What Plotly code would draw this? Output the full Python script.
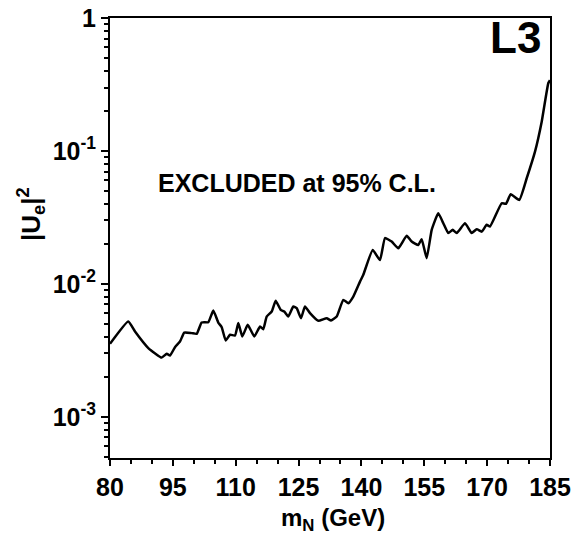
import plotly.graph_objects as go

mass = [80.0, 84.37, 85.97, 89.14, 92.34, 93.53, 94.32, 95.51, 96.70, 97.73, 99.50, 100.69,
        101.88, 103.46, 104.65, 105.84, 106.66, 107.61, 108.64, 109.83, 110.62, 111.57, 112.86,
        114.43, 115.80, 116.58, 117.39, 118.59, 119.54, 120.73, 121.59, 122.55, 123.74, 124.55,
        125.58, 126.53, 127.73, 129.71, 131.71, 132.74, 134.10, 135.67, 136.87, 138.06, 139.66,
        140.45, 142.69, 144.43, 145.62, 147.22, 148.80, 150.80, 151.99, 153.57, 154.38, 155.57,
        156.77, 158.34, 159.54, 160.73, 161.78, 162.74, 164.72, 166.31, 167.51, 168.70, 169.89,
        170.68, 173.47, 174.50, 175.62, 177.67, 179.44, 181.42, 183.02, 184.59, 185.0]
ue2 = [3.54e-3, 5.21e-3, 4.38e-3, 3.29e-3, 2.79e-3, 2.98e-3, 2.89e-3, 3.34e-3, 3.68e-3, 4.30e-3,
       4.26e-3, 4.21e-3, 5.12e-3, 5.15e-3, 6.30e-3, 5.12e-3, 4.72e-3, 3.75e-3, 4.14e-3, 4.09e-3,
       5.07e-3, 4.02e-3, 4.92e-3, 4.02e-3, 4.77e-3, 4.56e-3, 5.68e-3, 6.19e-3, 7.45e-3, 6.38e-3,
       6.19e-3, 5.68e-3, 6.75e-3, 6.56e-3, 5.52e-3, 6.75e-3, 6.02e-3, 5.27e-3, 5.52e-3, 5.30e-3,
       5.68e-3, 7.58e-3, 7.16e-3, 8.03e-3, 1.04e-2, 1.17e-2, 1.80e-2, 1.51e-2, 2.21e-2, 2.08e-2,
       1.85e-2, 2.30e-2, 2.08e-2, 1.96e-2, 2.17e-2, 1.56e-2, 2.55e-2, 3.40e-2, 2.86e-2, 2.41e-2,
       2.55e-2, 2.41e-2, 2.86e-2, 2.41e-2, 2.58e-2, 2.47e-2, 2.78e-2, 2.70e-2, 4.04e-2, 4.00e-2,
       4.72e-2, 4.28e-2, 6.23e-2, 9.88e-2, 0.166, 0.323, 0.34]

x_ticks = [80, 95, 110, 125, 140, 155, 170, 185]
x_minor = [85, 90, 100, 105, 115, 120, 130, 135, 145, 150, 160, 165, 175, 180]
y_ticks = [1e-3, 1e-2, 1e-1, 1]
y_ticktext = ["10<sup>-3</sup>", "10<sup>-2</sup>", "10<sup>-1</sup>", "1"]
y_minor = [m * 10.0 ** e for e in (-4, -3, -2, -1) for m in range(2, 10)]

FONT = "Liberation Sans, Arial, Helvetica, sans-serif"

# plot area in pixels: x 110..550, y 18..458
def px(xp):
    return (xp - 110) / 440

def py(yp):
    return 1 - (yp - 18) / 440

fig = go.Figure()
fig.add_trace(go.Scatter(x=mass, y=ue2, mode="lines",
                         line=dict(color="black", width=2.5, shape="spline", smoothing=0.4),
                         showlegend=False, hoverinfo="skip"))

fig.update_layout(
    width=585, height=538,
    margin=dict(l=110, r=35, t=18, b=80, autoexpand=False),
    paper_bgcolor="white", plot_bgcolor="white",
    font=dict(family=FONT, color="black", size=25, weight="bold"),
    xaxis=dict(
        range=[80, 185], tickmode="array", tickvals=x_ticks, automargin=False,
        ticks="outside", ticklen=6, tickwidth=2, tickcolor="black",
        showline=True, linecolor="black", linewidth=2, mirror=True,
        showgrid=False, zeroline=False,
        tickfont=dict(family=FONT, size=25, weight="bold"),
        minor=dict(tickmode="array", tickvals=x_minor, ticks="outside", ticklen=4,
                   tickwidth=1.5, tickcolor="black", showgrid=False),
    ),
    yaxis=dict(
        type="log", range=[-3.31, 0], tickmode="array", tickvals=y_ticks, ticktext=y_ticktext,
        automargin=False,
        ticks="outside", ticklen=7, tickwidth=2, tickcolor="black",
        showline=True, linecolor="black", linewidth=2, mirror=True,
        showgrid=False, zeroline=False,
        tickfont=dict(family=FONT, size=25, weight="bold"),
        minor=dict(tickmode="array", tickvals=y_minor, ticks="outside", ticklen=4,
                   tickwidth=1.5, tickcolor="black", showgrid=False),
    ),
    annotations=[
        dict(text="EXCLUDED at 95% C.L.", x=px(297), y=py(183), xref="paper", yref="paper",
             xanchor="center", yanchor="middle",
             showarrow=False, font=dict(family=FONT, size=25, weight="bold")),
        dict(text="L3", x=px(543), y=py(37), xref="paper", yref="paper", xanchor="right",
             yanchor="middle", showarrow=False, font=dict(family=FONT, size=44, weight="bold")),
        dict(text="|U<sub>e</sub>|<sup>2</sup>", x=px(31), y=py(214), xref="paper", yref="paper",
             xanchor="center", yanchor="middle",
             textangle=-90, showarrow=False, font=dict(family=FONT, size=26, weight="bold")),
        dict(text="m<sub>N</sub> (GeV)", x=px(333), y=py(519), xref="paper", yref="paper",
             xanchor="center", yanchor="middle",
             showarrow=False, font=dict(family=FONT, size=24, weight="bold")),
    ],
)

fig.write_html("out.html")
